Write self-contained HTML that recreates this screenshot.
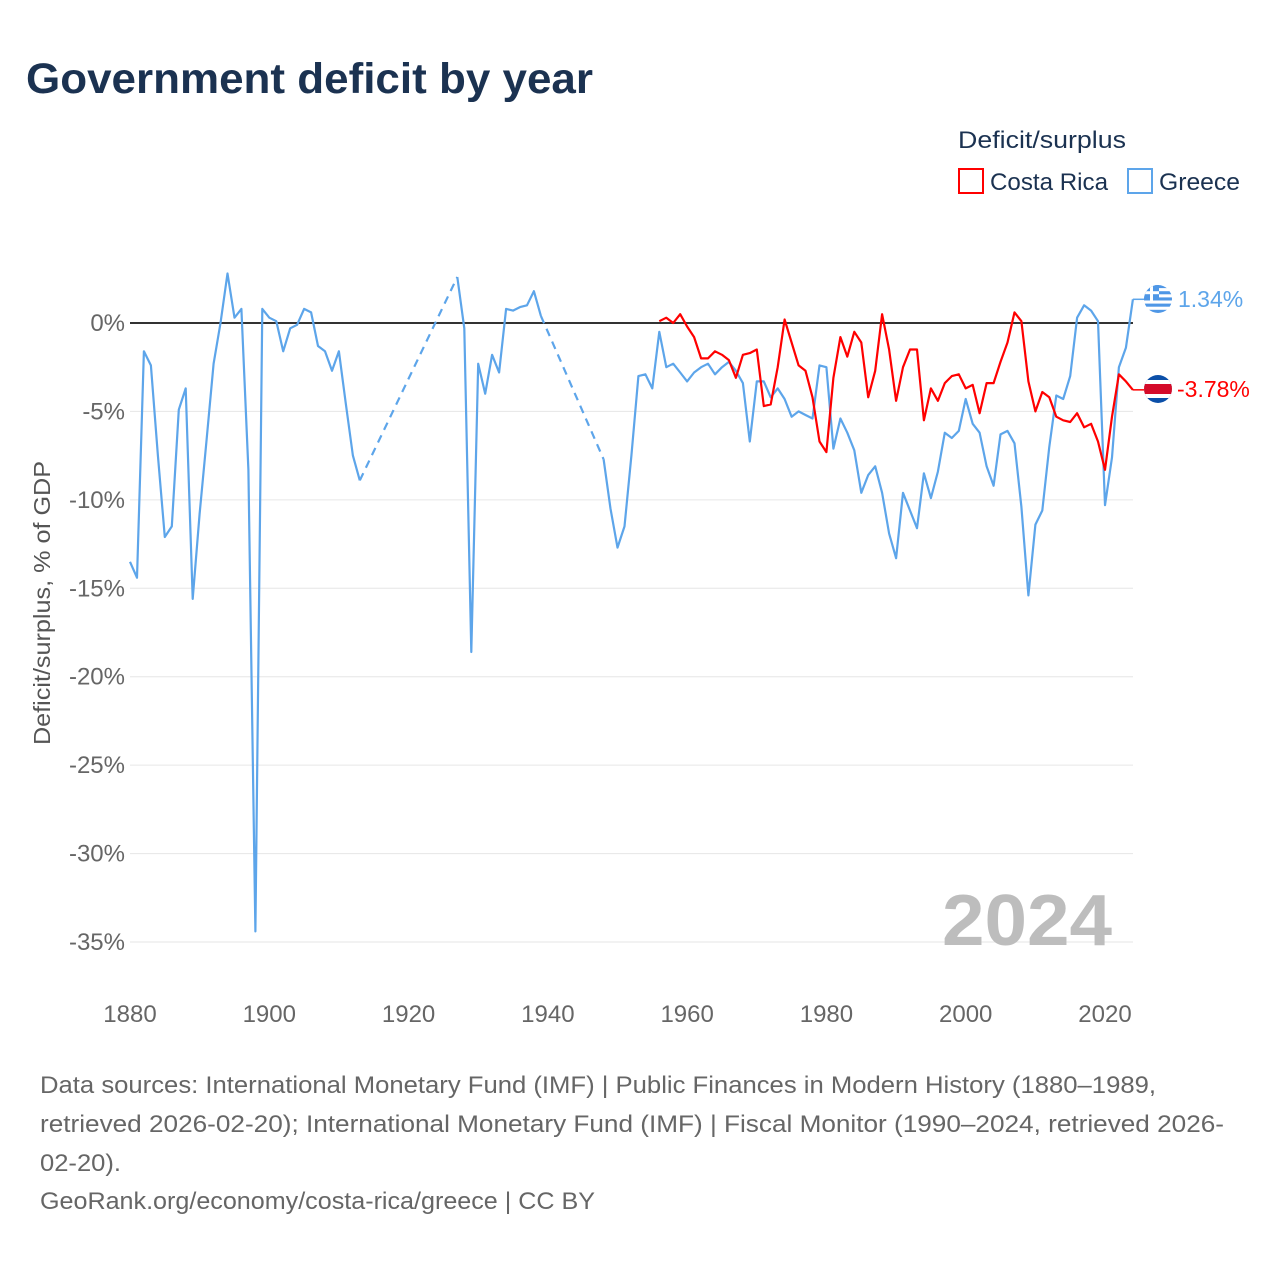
<!DOCTYPE html>
<html><head><meta charset="utf-8"><style>
html,body{margin:0;padding:0;background:#fff;}
svg{display:block;font-family:"Liberation Sans",sans-serif;}
</style></head><body>
<svg id="chart" width="1280" height="1280" viewBox="0 0 1280 1280">
<text x="26" y="93" font-size="43" font-weight="bold" fill="#1b3251" textLength="567" lengthAdjust="spacingAndGlyphs">Government deficit by year</text>
<g>
<text x="958" y="148" font-size="24" fill="#1b3251" textLength="168" lengthAdjust="spacingAndGlyphs">Deficit/surplus</text>
<g>
<rect x="959" y="169" width="24" height="24" fill="none" stroke="#ff0000" stroke-width="2"/>
<text x="990" y="190" font-size="24" fill="#1b3251" textLength="118" lengthAdjust="spacingAndGlyphs">Costa Rica</text></g>
<g>
<rect x="1128" y="169" width="24" height="24" fill="none" stroke="#5da5ea" stroke-width="2"/>
<text x="1159" y="190" font-size="24" fill="#1b3251" textLength="81" lengthAdjust="spacingAndGlyphs">Greece</text></g>
</g>
<g id="grid"></g>
<g id="yticks"></g>
<g id="xticks"></g>
<text transform="translate(50,603) rotate(-90)" text-anchor="middle" font-size="23" fill="#555" textLength="284" lengthAdjust="spacingAndGlyphs">Deficit/surplus, % of GDP</text>
<text x="1112" y="945" text-anchor="end" font-size="72" font-weight="bold" fill="#bdbdbd" textLength="170" lengthAdjust="spacingAndGlyphs">2024</text>
<g id="series"></g>
<g>
<g>
<clipPath id="cg"><circle cx="1158" cy="299" r="14"/></clipPath>
<g clip-path="url(#cg)"><rect x="1144" y="285" width="28" height="28" fill="#fff"/>
<rect x="1144" y="285" width="28" height="3.1" fill="#4f97e6"/><rect x="1144" y="291.2" width="28" height="3.1" fill="#4f97e6"/><rect x="1144" y="297.4" width="28" height="3.1" fill="#4f97e6"/><rect x="1144" y="303.6" width="28" height="3.1" fill="#4f97e6"/><rect x="1144" y="309.8" width="28" height="3.2" fill="#4f97e6"/>
<rect x="1144" y="285" width="15" height="15.5" fill="#4f97e6"/><rect x="1150" y="285" width="3" height="15.5" fill="#fff"/><rect x="1144" y="291.2" width="15" height="3" fill="#fff"/></g></g>
<text x="1178" y="307" font-size="23" fill="#5da5ea">1.34%</text>
<g>
<clipPath id="cc"><circle cx="1158" cy="389" r="14"/></clipPath>
<g clip-path="url(#cc)"><rect x="1144" y="375" width="28" height="28" fill="#0b4fa8"/><rect x="1144" y="380" width="28" height="18" fill="#fff"/><rect x="1144" y="384" width="28" height="10" fill="#d40b2a"/></g></g>
<text x="1177" y="397" font-size="23" fill="#ff0000">-3.78%</text>
</g>
<g font-size="24" fill="#666">
<text x="40" y="1093" textLength="1116" lengthAdjust="spacingAndGlyphs">Data sources: International Monetary Fund (IMF) | Public Finances in Modern History (1880–1989,</text>
<text x="40" y="1132" textLength="1184" lengthAdjust="spacingAndGlyphs">retrieved 2026-02-20); International Monetary Fund (IMF) | Fiscal Monitor (1990–2024, retrieved 2026-</text>
<text x="40" y="1171" textLength="81" lengthAdjust="spacingAndGlyphs">02-20).</text>
<text x="40" y="1209" textLength="555" lengthAdjust="spacingAndGlyphs">GeoRank.org/economy/costa-rica/greece | CC BY</text>
</g>
</svg>
<script>
const yTicks=[0,-5,-10,-15,-20,-25,-30,-35];
const xTicks=[1880,1900,1920,1940,1960,1980,2000,2020];
const greeceYears=[1880,1881,1882,1883,1884,1885,1886,1887,1888,1889,1890,1891,1892,1893,1894,1895,1896,1897,1898,1899,1900,1901,1902,1903,1904,1905,1906,1907,1908,1909,1910,1911,1912,1913,
1927,1928,1929,1930,1931,1932,1933,1934,1935,1936,1937,1938,1939,
1948,1949,1950,1951,1952,1953,1954,1955,1956,1957,1958,1959,1960,1961,1962,1963,1964,1965,1966,1967,1968,1969,1970,1971,1972,1973,1974,1975,1976,1977,1978,1979,1980,1981,1982,1983,1984,1985,1986,1987,1988,1989,1990,1991,1992,1993,1994,1995,1996,1997,1998,1999,2000,2001,2002,2003,2004,2005,2006,2007,2008,2009,2010,2011,2012,2013,2014,2015,2016,2017,2018,2019,2020,2021,2022,2023,2024];
const greeceValues=[-13.5,-14.4,-1.6,-2.4,-7.5,-12.1,-11.5,-4.9,-3.7,-15.6,-10.8,-6.6,-2.3,0,2.8,0.3,0.8,-8.3,-34.4,0.8,0.3,0.1,-1.6,-0.3,-0.1,0.8,0.6,-1.3,-1.6,-2.7,-1.6,-4.6,-7.5,-8.9,
2.6,-0.3,-18.6,-2.3,-4.0,-1.8,-2.8,0.8,0.7,0.9,1.0,1.8,0.4,
-7.7,-10.5,-12.7,-11.5,-7.5,-3.0,-2.9,-3.7,-0.5,-2.5,-2.3,-2.8,-3.3,-2.8,-2.5,-2.3,-2.9,-2.5,-2.2,-2.7,-3.4,-6.7,-3.3,-3.3,-4.2,-3.7,-4.3,-5.3,-5.0,-5.2,-5.4,-2.4,-2.5,-7.1,-5.4,-6.2,-7.2,-9.6,-8.6,-8.1,-9.6,-11.9,-13.3,-9.6,-10.6,-11.6,-8.5,-9.9,-8.4,-6.2,-6.5,-6.1,-4.3,-5.7,-6.2,-8.1,-9.2,-6.3,-6.1,-6.8,-10.4,-15.4,-11.4,-10.6,-7.0,-4.1,-4.3,-3.0,0.3,1.0,0.7,0.1,-10.3,-7.6,-2.5,-1.4,1.34];
const crYears=[1956,1957,1958,1959,1960,1961,1962,1963,1964,1965,1966,1967,1968,1969,1970,1971,1972,1973,1974,1975,1976,1977,1978,1979,1980,1981,1982,1983,1984,1985,1986,1987,1988,1989,1990,1991,1992,1993,1994,1995,1996,1997,1998,1999,2000,2001,2002,2003,2004,2005,2006,2007,2008,2009,2010,2011,2012,2013,2014,2015,2016,2017,2018,2019,2020,2021,2022,2023,2024];
const crValues=[0.1,0.3,0,0.5,-0.2,-0.8,-2.0,-2.0,-1.6,-1.8,-2.1,-3.1,-1.8,-1.7,-1.5,-4.7,-4.6,-2.5,0.2,-1.1,-2.4,-2.7,-4.2,-6.7,-7.3,-3.1,-0.8,-1.9,-0.5,-1.1,-4.2,-2.7,0.5,-1.5,-4.4,-2.5,-1.5,-1.5,-5.5,-3.7,-4.4,-3.4,-3.0,-2.9,-3.7,-3.5,-5.1,-3.4,-3.4,-2.2,-1.1,0.6,0.1,-3.3,-5.0,-3.9,-4.2,-5.3,-5.5,-5.6,-5.1,-5.9,-5.7,-6.7,-8.3,-5.3,-2.9,-3.3,-3.78];
const NS='http://www.w3.org/2000/svg';
const X0=130,X1=1133,Y0=323,PPY=(942-323)/35;
function xs(yr){return X0+(yr-1880)*(1105-130)/140;}
function ys(v){return Y0-v*PPY;}
function mk(tag,attrs,parent){const e=document.createElementNS(NS,tag);for(const k in attrs)e.setAttribute(k,attrs[k]);parent.appendChild(e);return e;}
const grid=document.getElementById('grid'),yt=document.getElementById('yticks'),xt=document.getElementById('xticks'),ser=document.getElementById('series');
yTicks.forEach(t=>{
  if(t!==0){const l=mk('line',{x1:X0,x2:X1,y1:ys(t),y2:ys(t),stroke:'#e6e6e6','stroke-width':1},grid);
  
  }
  const tx=mk('text',{x:125,y:ys(t)+8,'text-anchor':'end','font-size':24,fill:'#666'},yt);
  tx.textContent=t+'%';
  
  
});
xTicks.forEach(t=>{
  const tx=mk('text',{x:xs(t),y:1022,'text-anchor':'middle','font-size':24,fill:'#666'},xt);
  tx.textContent=t;
  
  
});
const zl=mk('line',{x1:X0,x2:X1,y1:ys(0),y2:ys(0),stroke:'#333','stroke-width':2},ser);


function drawSeries(years,vals,color,name){
  let seg=[];const segs=[];
  for(let i=0;i<years.length;i++){
    if(i>0&&years[i]-years[i-1]>1){segs.push(seg);seg=[];
      const d=mk('line',{x1:xs(years[i-1]),y1:ys(vals[i-1]),x2:xs(years[i]),y2:ys(vals[i]),stroke:color,'stroke-width':2.2,'stroke-dasharray':'8,6'},ser);
      
      }
    seg.push(xs(years[i]).toFixed(1)+','+ys(vals[i]).toFixed(1));
  }
  segs.push(seg);
  segs.forEach(s=>{const p=mk('polyline',{points:s.join(' '),fill:'none',stroke:color,'stroke-width':2.2,'stroke-linejoin':'round'},ser);
    
    });
  const last=years.length-1;
  const c=mk('line',{x1:xs(years[last]),y1:ys(vals[last]),x2:1144,y2:ys(vals[last]),stroke:color,'stroke-width':1.5},ser);
  
  
}
drawSeries(greeceYears,greeceValues,'#5da5ea','greece');
drawSeries(crYears,crValues,'#ff0000','costa-rica');
</script>
</body></html>
